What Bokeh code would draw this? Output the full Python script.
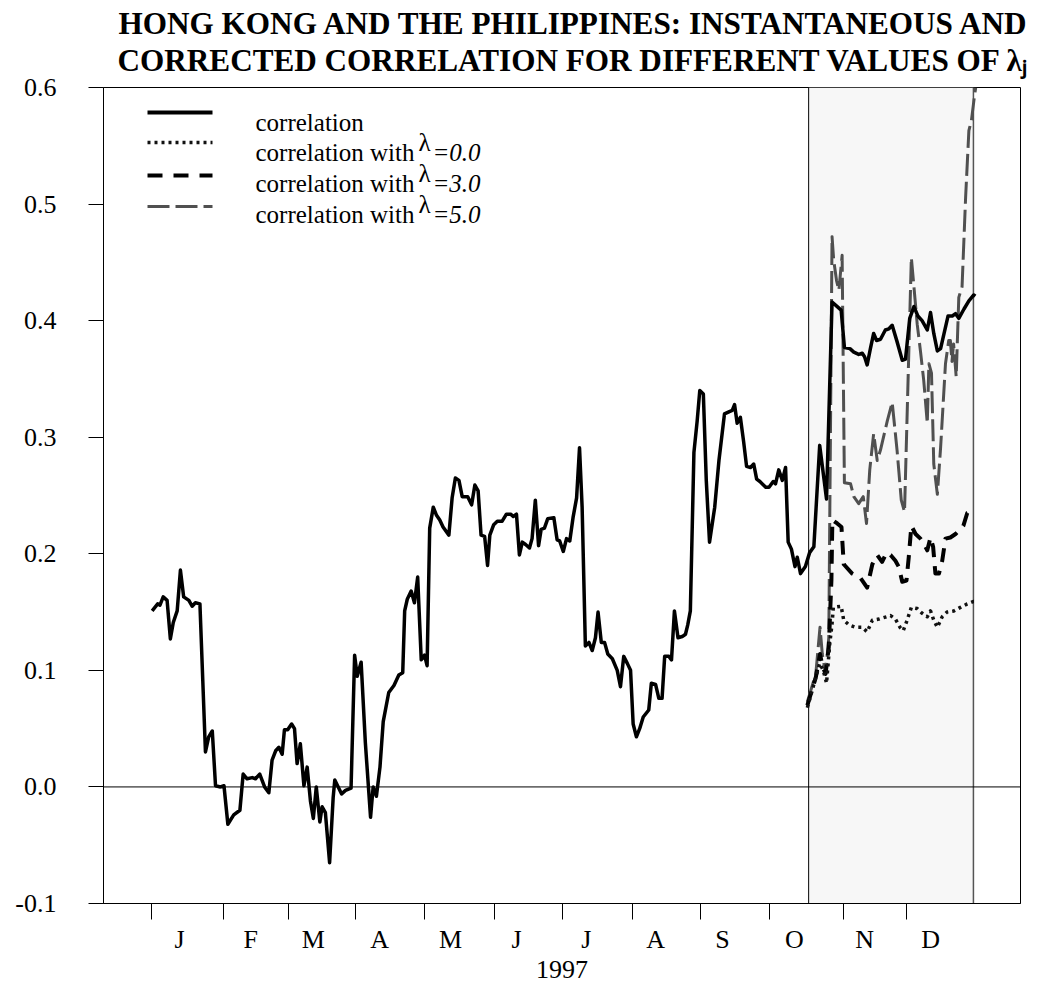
from bokeh.plotting import figure
from bokeh.models import Range1d, FixedTicker, PrintfTickFormatter, Label, Span, BoxAnnotation, Title
from bokeh.embed import file_html
from bokeh.resources import INLINE

# ---------------- data (x = trading-day index from 1 Jan 1997) ----------------
corr_day = [0.2, 1.9, 2.6, 3.6, 4.8, 5.8, 6.7, 7.9, 8.9, 9.9, 11.5, 12.5, 13.5, 14.9, 16.6, 17.6, 18.7,
            19.7, 21.2, 22.3, 23.5, 25.3, 27.2, 28.2, 29.4, 31.0, 32.0, 33.3, 34.8, 36.1, 37.1, 38.2,
            39.2, 40.2, 40.9, 41.9, 43.1, 44.0, 44.8, 45.8, 46.9, 47.9, 48.9, 49.8, 50.7, 51.8, 52.5,
            53.5, 54.8, 55.9, 56.4, 58.5, 59.7, 61.4, 62.5, 63.3, 64.5, 65.8, 67.4, 68.2, 69.2, 70.3,
            71.3, 73.0, 74.6, 76.1, 77.3, 77.9, 78.7, 79.9, 80.9, 81.9, 83.0, 84.0, 84.8, 85.6, 86.7,
            87.7, 88.7, 89.7, 91.5, 92.5, 93.5, 94.6, 95.6, 97.3, 98.5, 99.5, 100.5, 101.4, 102.5,
            103.4, 104.1, 105.3, 106.4, 107.9, 109.2, 110.5, 111.3, 112.3, 113.2, 114.1, 115.1, 116.3,
            117.1, 118.1, 119.1, 119.9, 120.9, 121.9, 123.8, 124.8, 125.6, 126.7, 127.7, 128.7, 129.7,
            130.8, 131.7, 132.5, 133.5, 134.6, 135.6, 136.6, 137.4, 138.4, 139.4, 140.4, 141.8, 143.3,
            144.3, 145.3, 146.4, 147.4, 148.2, 149.2, 150.2, 151.3, 153.0, 153.8, 155.1, 156.1, 157.1,
            157.9, 159.2, 160.0, 160.9, 162.0, 163.3, 164.3, 165.0, 165.8, 166.9, 167.9, 168.7, 169.8,
            170.7, 171.7, 173.3, 174.6, 176.3, 177.8, 178.7, 179.4, 180.2, 181.2, 182.2, 183.1, 184.3,
            185.3, 186.2, 187.2, 189.0, 190.0, 191.3, 192.0, 193.0, 194.1, 195.1, 195.9, 196.9, 198.0,
            198.7, 199.7, 201.2, 202.5, 203.8, 205.6, 207.7, 209.4, 211.0, 212.2, 213.2, 214.9, 216.1,
            217.6, 218.7, 219.4, 220.2, 221.2, 222.2, 223.1, 224.3, 225.8, 226.9, 227.9, 229.4, 231.0,
            232.0, 233.3, 234.6, 235.8, 237.1, 238.7, 239.7, 240.7, 241.8, 242.8, 245.1, 246.4, 247.4,
            248.4, 250.0, 251.5, 253.0, 253.5]
corr_val = [0.151, 0.157, 0.156, 0.163, 0.160, 0.127, 0.141, 0.151, 0.186, 0.163, 0.160, 0.155, 0.158,
            0.157, 0.030, 0.043, 0.048, 0.001, 0.000, 0.001, -0.032, -0.024, -0.020, 0.011, 0.007, 0.008,
            0.007, 0.011, 0.000, -0.005, 0.023, 0.031, 0.034, 0.028, 0.049, 0.049, 0.054, 0.050, 0.020,
            0.037, 0.001, 0.017, -0.012, -0.027, 0.000, -0.030, -0.017, -0.022, -0.065, -0.009, 0.006,
            -0.006, -0.003, -0.001, 0.113, 0.095, 0.107, 0.038, -0.026, 0.000, -0.008, 0.017, 0.056,
            0.081, 0.087, 0.096, 0.098, 0.151, 0.161, 0.168, 0.158, 0.180, 0.109, 0.113, 0.104, 0.222,
            0.240, 0.233, 0.229, 0.223, 0.216, 0.248, 0.265, 0.263, 0.249, 0.249, 0.242, 0.259, 0.254,
            0.216, 0.215, 0.190, 0.216, 0.225, 0.228, 0.228, 0.234, 0.234, 0.232, 0.234, 0.199, 0.210,
            0.208, 0.205, 0.213, 0.246, 0.207, 0.221, 0.222, 0.230, 0.231, 0.212, 0.211, 0.202, 0.213,
            0.211, 0.231, 0.248, 0.291, 0.240, 0.121, 0.124, 0.117, 0.128, 0.150, 0.124, 0.124, 0.114,
            0.110, 0.100, 0.086, 0.112, 0.106, 0.100, 0.054, 0.043, 0.050, 0.060, 0.066, 0.089, 0.088,
            0.076, 0.076, 0.112, 0.112, 0.109, 0.151, 0.128, 0.129, 0.131, 0.139, 0.151, 0.287, 0.314,
            0.340, 0.337, 0.263, 0.210, 0.240, 0.280, 0.320, 0.322, 0.323, 0.328, 0.312, 0.317, 0.296,
            0.275, 0.274, 0.277, 0.264, 0.262, 0.257, 0.257, 0.262, 0.260, 0.272, 0.263, 0.274, 0.210,
            0.204, 0.189, 0.197, 0.183, 0.189, 0.201, 0.206, 0.293, 0.247, 0.416, 0.412, 0.409, 0.377,
            0.376, 0.373, 0.371, 0.372, 0.369, 0.362, 0.376, 0.389, 0.383, 0.384, 0.392, 0.393, 0.396,
            0.382, 0.366, 0.367, 0.402, 0.412, 0.404, 0.400, 0.392, 0.407, 0.389, 0.374, 0.376, 0.404,
            0.404, 0.406, 0.402, 0.410, 0.417, 0.422, 0.421]

lam0_day = [201.8, 204.1, 205.6, 206.7, 207.7, 208.7, 209.4, 209.8, 212.2, 213.0, 214.6, 216.6, 218.7,
            220.2, 221.8, 223.8, 227.4, 228.9, 230.3, 231.3, 232.5, 233.8, 235.6, 237.1, 238.7, 239.7,
            240.7, 241.8, 243.3, 244.8, 246.9, 248.9, 251.0, 252.8, 253.3]
lam0_val = [0.068, 0.091, 0.106, 0.100, 0.089, 0.123, 0.140, 0.154, 0.155, 0.143, 0.139, 0.137, 0.137,
            0.133, 0.143, 0.144, 0.147, 0.144, 0.137, 0.134, 0.143, 0.154, 0.153, 0.149, 0.146, 0.151,
            0.143, 0.137, 0.146, 0.150, 0.151, 0.154, 0.157, 0.159, 0.159]

lam3_day = [201.8, 204.4, 205.7, 206.4, 207.4, 208.4, 209.2, 209.5, 211.0, 212.3, 213.0, 215.6, 218.2,
            220.2, 221.8, 223.3, 224.8, 226.2, 227.4, 228.9, 229.9, 231.0, 232.3, 233.0, 233.8, 235.1,
            236.6, 237.6, 238.7, 239.7, 240.5, 241.2, 242.3, 243.3, 244.3, 245.8, 247.4, 248.9, 249.8,
            251.0, 252.5, 253.3]
lam3_val = [0.070, 0.094, 0.114, 0.104, 0.097, 0.120, 0.177, 0.229, 0.226, 0.223, 0.191, 0.183, 0.179,
            0.171, 0.191, 0.199, 0.193, 0.201, 0.199, 0.194, 0.189, 0.176, 0.177, 0.197, 0.224, 0.217,
            0.213, 0.209, 0.203, 0.214, 0.206, 0.183, 0.183, 0.194, 0.213, 0.214, 0.217, 0.221, 0.224,
            0.235, 0.237, 0.237]

lam5_day = [201.8, 204.4, 205.7, 206.4, 207.4, 208.4, 209.4, 209.9, 210.8, 211.5, 212.5, 213.2, 215.1,
            216.1, 217.6, 219.0, 220.0, 221.0, 222.2, 223.3, 224.3, 226.4, 227.9, 229.4, 230.7, 231.7,
            233.8, 234.6, 235.6, 236.6, 237.6, 238.7, 239.2, 240.0, 240.7, 241.8, 242.8, 244.3, 245.3,
            245.8, 246.3, 246.8, 247.6, 248.4, 249.4, 250.5, 251.5, 252.3, 253.1, 253.6]
lam5_val = [0.073, 0.097, 0.137, 0.114, 0.097, 0.128, 0.472, 0.452, 0.434, 0.426, 0.456, 0.261, 0.260,
            0.249, 0.243, 0.249, 0.226, 0.272, 0.303, 0.280, 0.289, 0.314, 0.330, 0.289, 0.246, 0.236,
            0.454, 0.429, 0.397, 0.374, 0.349, 0.312, 0.363, 0.355, 0.277, 0.251, 0.291, 0.363, 0.383,
            0.383, 0.365, 0.380, 0.352, 0.420, 0.429, 0.506, 0.563, 0.572, 0.590, 0.600]

month_starts = [0.0, 22.3, 42.0, 62.8, 84.0, 105.4, 126.5, 148.0, 168.8, 190.2, 212.8, 232.2]
month_label_pos = [8.6, 30.5, 49.8, 70.2, 92.0, 112.3, 133.8, 155.1, 175.7, 197.8, 219.4, 239.7]
month_letters = ["J", "F", "M", "A", "M", "J", "J", "A", "S", "O", "N", "D"]
crisis_start = 202.2
crisis_end = 252.9
y_ticks = [-0.1, 0.0, 0.1, 0.2, 0.3, 0.4, 0.5, 0.6]

title_line1 = "HONG KONG AND THE PHILIPPINES: INSTANTANEOUS AND"
title_line2 = "CORRECTED CORRELATION FOR DIFFERENT VALUES OF λⱼ"
legend_labels = ["correlation", "correlation with", "correlation with", "correlation with"]
legend_lambdas = [None, "=0.0", "=3.0", "=5.0"]

# ---------------- helpers to place legend items by pixel ----------------
def dx(px):
    return (px - 151.0) / 3.25

def vy(py):
    return 0.6 - (py - 87.0) / 1165.7

SERIF = "Liberation Serif"

p = figure(width=1037, height=984, output_backend="svg", toolbar_location=None,
           title=title_line1,
           x_range=Range1d(dx(103), dx(1020)), y_range=Range1d(-0.1, 0.6),
           min_border_left=103, min_border_right=17, min_border_top=87, min_border_bottom=81)
p.background_fill_color = "white"
p.border_fill_color = "white"
p.outline_line_color = "black"
p.outline_line_width = 1
p.xgrid.visible = False
p.ygrid.visible = False

# title line 1 (outer) and line 2 (next to the frame)
p.title.align = "left"
p.title.vertical_align = "bottom"
p.title.offset = 15
p.title.text_font = SERIF
p.title.text_font_style = "bold"
p.title.text_font_size = "31.2px"
p.title.text_color = "black"
p.title.standoff = -20
p.add_layout(Title(text=title_line2, align="left", vertical_align="bottom", offset=14,
                   text_font=SERIF, text_font_style="bold", text_font_size="31.2px",
                   text_color="black", standoff=20), "above")

# shaded crisis period
p.add_layout(BoxAnnotation(left=crisis_start, right=crisis_end, fill_color="#f7f7f7", fill_alpha=1.0,
                           line_color=None, level="underlay"))
p.add_layout(Span(location=crisis_start, dimension="height", line_color="black", line_width=1, level="underlay"))
p.add_layout(Span(location=crisis_end, dimension="height", line_color="#555555", line_width=1.5, level="underlay"))
p.add_layout(Span(location=0.0, dimension="width", line_color="black", line_width=1, level="underlay"))

# series
p.line(lam5_day, lam5_val, line_color="#505050", line_width=3, line_dash="22 6", line_join="round")
p.line(lam3_day, lam3_val, line_color="black", line_width=4, line_dash="14 9", line_join="round")
p.line(lam0_day, lam0_val, line_color="#111111", line_width=3.5, line_dash="3 4", line_join="round")
p.line(corr_day, corr_val, line_color="black", line_width=3.5, line_join="round")

# axes
yax = p.yaxis[0]
yax.ticker = FixedTicker(ticks=y_ticks)
yax.formatter = PrintfTickFormatter(format="%.1f")
yax.major_tick_out = 15
yax.major_tick_in = 0
yax.minor_tick_line_color = None
yax.major_label_standoff = 32
yax.major_label_text_font = SERIF
yax.major_label_text_font_size = "26px"
yax.major_label_text_color = "black"
yax.axis_line_color = "black"
yax.major_tick_line_color = "black"

xax = p.xaxis[0]
xax.ticker = FixedTicker(ticks=month_label_pos, minor_ticks=month_starts)
xax.major_label_overrides = {pos: lab for pos, lab in zip(month_label_pos, month_letters)}
xax.major_tick_line_color = None
xax.major_tick_out = 0
xax.major_tick_in = 0
xax.minor_tick_out = 16
xax.minor_tick_in = 0
xax.minor_tick_line_color = "black"
xax.major_label_standoff = 5
xax.major_label_text_font = SERIF
xax.major_label_text_font_size = "26px"
xax.major_label_text_color = "black"
xax.axis_line_color = "black"
xax.axis_label = "1997"
xax.axis_label_standoff = 4
xax.axis_label_text_font = SERIF
xax.axis_label_text_font_style = "normal"
xax.axis_label_text_font_size = "26px"
xax.axis_label_text_color = "black"

# legend (manual)
leg_line_y = [112, 142, 175, 206]
leg_text_y = [122, 152, 183, 214]
leg_styles = [dict(line_color="black", line_width=4),
              dict(line_color="#111111", line_width=3.5, line_dash="3 4"),
              dict(line_color="black", line_width=4, line_dash="15 11"),
              dict(line_color="#505050", line_width=3, line_dash="22 6")]
for i in range(4):
    p.line([dx(147), dx(212)], [vy(leg_line_y[i])] * 2, **leg_styles[i])
    p.add_layout(Label(x=dx(255), y=vy(leg_text_y[i]), text=legend_labels[i], text_align="left",
                       text_baseline="alphabetic", text_font=SERIF, text_font_size="25px",
                       text_color="black"))
    if legend_lambdas[i]:
        p.add_layout(Label(x=dx(418), y=vy(leg_text_y[i] - 10), text="λ", text_align="left",
                           text_baseline="alphabetic", text_font=SERIF, text_font_size="25px",
                           text_color="black"))
        p.add_layout(Label(x=dx(432), y=vy(leg_text_y[i]), text=legend_lambdas[i], text_align="left",
                           text_baseline="alphabetic", text_font=SERIF, text_font_style="italic",
                           text_font_size="25px", text_color="black"))

open("out.html", "w").write(file_html(p, INLINE))
